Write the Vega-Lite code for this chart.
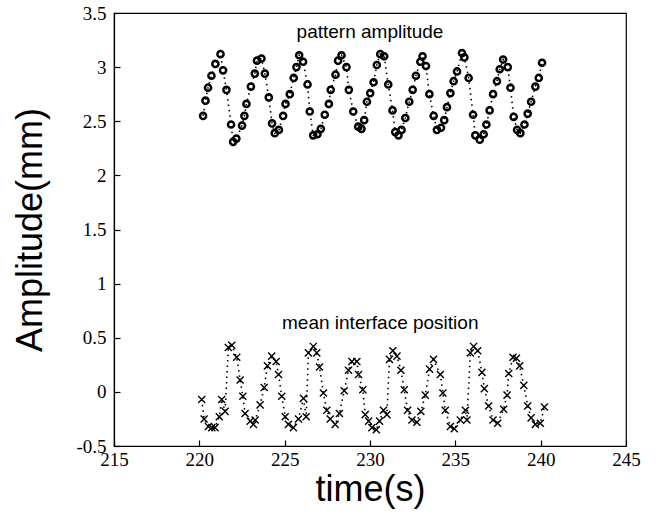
{
  "$schema": "https://vega.github.io/schema/vega-lite/v6.json",
  "width": 512,
  "height": 433,
  "autosize": "none",
  "padding": {"left": 114, "top": 13, "right": 38, "bottom": 78},
  "background": "white",
  "config": {
    "view": {"stroke": "black", "strokeWidth": 1.2},
    "axis": {
      "domainColor": "black", "domainWidth": 1.2,
      "tickColor": "black", "tickWidth": 1.2, "tickSize": -6,
      "grid": false, "labelFlush": false,
      "labelFont": "Liberation Sans Narrow", "labelFontSize": 19, "labelColor": "black",
      "titleFont": "Liberation Sans", "titleFontSize": 36, "titleFontWeight": "normal", "titleColor": "black"
    }
  },
  "datasets": {
    "series": [
    {"s":"p","t":220.22,"v":2.55},{"s":"p","t":220.36,"v":2.69},{"s":"p","t":220.51,"v":2.81},{"s":"p","t":220.71,"v":2.92},{"s":"p","t":220.94,"v":3.03},{"s":"p","t":221.24,"v":3.12},{"s":"p","t":221.39,"v":2.97},{"s":"p","t":221.59,"v":2.79},{"s":"p","t":221.86,"v":2.47},{"s":"p","t":221.98,"v":2.31},{"s":"p","t":222.17,"v":2.34},{"s":"p","t":222.50,"v":2.46},{"s":"p","t":222.64,"v":2.55},{"s":"p","t":222.76,"v":2.66},{"s":"p","t":223.02,"v":2.82},{"s":"p","t":223.25,"v":2.94},{"s":"p","t":223.38,"v":3.06},{"s":"p","t":223.64,"v":3.08},{"s":"p","t":223.84,"v":2.94},{"s":"p","t":224.07,"v":2.72},{"s":"p","t":224.26,"v":2.48},{"s":"p","t":224.42,"v":2.39},{"s":"p","t":224.66,"v":2.42},{"s":"p","t":224.91,"v":2.55},{"s":"p","t":225.05,"v":2.66},{"s":"p","t":225.30,"v":2.75},{"s":"p","t":225.53,"v":2.90},{"s":"p","t":225.69,"v":3.00},{"s":"p","t":225.85,"v":3.11},{"s":"p","t":226.08,"v":3.05},{"s":"p","t":226.34,"v":2.84},{"s":"p","t":226.47,"v":2.59},{"s":"p","t":226.67,"v":2.37},{"s":"p","t":226.92,"v":2.38},{"s":"p","t":227.12,"v":2.43},{"s":"p","t":227.35,"v":2.56},{"s":"p","t":227.59,"v":2.66},{"s":"p","t":227.70,"v":2.79},{"s":"p","t":227.98,"v":2.93},{"s":"p","t":228.13,"v":3.06},{"s":"p","t":228.33,"v":3.11},{"s":"p","t":228.62,"v":3.00},{"s":"p","t":228.76,"v":2.79},{"s":"p","t":229.02,"v":2.59},{"s":"p","t":229.31,"v":2.45},{"s":"p","t":229.50,"v":2.43},{"s":"p","t":229.66,"v":2.51},{"s":"p","t":229.82,"v":2.68},{"s":"p","t":230.01,"v":2.76},{"s":"p","t":230.21,"v":2.86},{"s":"p","t":230.40,"v":3.02},{"s":"p","t":230.60,"v":3.12},{"s":"p","t":230.83,"v":3.10},{"s":"p","t":231.07,"v":2.84},{"s":"p","t":231.32,"v":2.60},{"s":"p","t":231.48,"v":2.40},{"s":"p","t":231.67,"v":2.37},{"s":"p","t":231.85,"v":2.42},{"s":"p","t":232.07,"v":2.53},{"s":"p","t":232.30,"v":2.68},{"s":"p","t":232.50,"v":2.79},{"s":"p","t":232.69,"v":2.92},{"s":"p","t":232.95,"v":3.05},{"s":"p","t":233.08,"v":3.10},{"s":"p","t":233.28,"v":3.01},{"s":"p","t":233.48,"v":2.75},{"s":"p","t":233.73,"v":2.55},{"s":"p","t":233.92,"v":2.42},{"s":"p","t":234.16,"v":2.44},{"s":"p","t":234.35,"v":2.51},{"s":"p","t":234.51,"v":2.63},{"s":"p","t":234.71,"v":2.76},{"s":"p","t":234.90,"v":2.87},{"s":"p","t":235.10,"v":2.96},{"s":"p","t":235.39,"v":3.13},{"s":"p","t":235.53,"v":3.09},{"s":"p","t":235.78,"v":2.90},{"s":"p","t":236.04,"v":2.56},{"s":"p","t":236.17,"v":2.37},{"s":"p","t":236.43,"v":2.33},{"s":"p","t":236.66,"v":2.38},{"s":"p","t":236.82,"v":2.47},{"s":"p","t":237.01,"v":2.60},{"s":"p","t":237.21,"v":2.75},{"s":"p","t":237.44,"v":2.87},{"s":"p","t":237.60,"v":2.98},{"s":"p","t":237.80,"v":3.07},{"s":"p","t":238.07,"v":3.00},{"s":"p","t":238.23,"v":2.81},{"s":"p","t":238.42,"v":2.54},{"s":"p","t":238.62,"v":2.42},{"s":"p","t":238.81,"v":2.39},{"s":"p","t":239.05,"v":2.47},{"s":"p","t":239.24,"v":2.57},{"s":"p","t":239.44,"v":2.68},{"s":"p","t":239.69,"v":2.82},{"s":"p","t":239.89,"v":2.90},{"s":"p","t":240.08,"v":3.04},
    {"s":"m","t":220.14,"v":-0.07},{"s":"m","t":220.28,"v":-0.25},{"s":"m","t":220.53,"v":-0.32},{"s":"m","t":220.73,"v":-0.33},{"s":"m","t":220.92,"v":-0.33},{"s":"m","t":221.17,"v":-0.23},{"s":"m","t":221.31,"v":-0.07},{"s":"m","t":221.51,"v":-0.18},{"s":"m","t":221.70,"v":0.41},{"s":"m","t":221.90,"v":0.43},{"s":"m","t":222.19,"v":0.32},{"s":"m","t":222.39,"v":0.11},{"s":"m","t":222.55,"v":-0.04},{"s":"m","t":222.68,"v":-0.20},{"s":"m","t":222.98,"v":-0.27},{"s":"m","t":223.17,"v":-0.30},{"s":"m","t":223.27,"v":-0.26},{"s":"m","t":223.56,"v":-0.12},{"s":"m","t":223.80,"v":0.04},{"s":"m","t":223.99,"v":0.24},{"s":"m","t":224.24,"v":0.33},{"s":"m","t":224.50,"v":0.28},{"s":"m","t":224.64,"v":0.16},{"s":"m","t":224.83,"v":-0.04},{"s":"m","t":225.03,"v":-0.23},{"s":"m","t":225.22,"v":-0.30},{"s":"m","t":225.51,"v":-0.33},{"s":"m","t":225.81,"v":-0.25},{"s":"m","t":226.10,"v":-0.06},{"s":"m","t":226.26,"v":-0.23},{"s":"m","t":226.39,"v":0.36},{"s":"m","t":226.68,"v":0.42},{"s":"m","t":226.88,"v":0.36},{"s":"m","t":227.04,"v":0.23},{"s":"m","t":227.27,"v":-0.01},{"s":"m","t":227.47,"v":-0.17},{"s":"m","t":227.67,"v":-0.25},{"s":"m","t":227.96,"v":-0.30},{"s":"m","t":228.21,"v":-0.20},{"s":"m","t":228.49,"v":0.01},{"s":"m","t":228.74,"v":0.20},{"s":"m","t":228.94,"v":0.28},{"s":"m","t":229.23,"v":0.28},{"s":"m","t":229.33,"v":0.16},{"s":"m","t":229.58,"v":0.02},{"s":"m","t":229.72,"v":-0.21},{"s":"m","t":229.92,"v":-0.27},{"s":"m","t":230.11,"v":-0.33},{"s":"m","t":230.37,"v":-0.35},{"s":"m","t":230.56,"v":-0.27},{"s":"m","t":230.79,"v":-0.17},{"s":"m","t":230.99,"v":-0.21},{"s":"m","t":231.14,"v":0.30},{"s":"m","t":231.34,"v":0.38},{"s":"m","t":231.58,"v":0.33},{"s":"m","t":231.81,"v":0.20},{"s":"m","t":232.01,"v":0.02},{"s":"m","t":232.20,"v":-0.17},{"s":"m","t":232.46,"v":-0.26},{"s":"m","t":232.75,"v":-0.28},{"s":"m","t":232.98,"v":-0.18},{"s":"m","t":233.24,"v":-0.03},{"s":"m","t":233.49,"v":0.21},{"s":"m","t":233.72,"v":0.30},{"s":"m","t":234.12,"v":0.16},{"s":"m","t":234.27,"v":-0.01},{"s":"m","t":234.41,"v":-0.17},{"s":"m","t":234.71,"v":-0.32},{"s":"m","t":234.94,"v":-0.34},{"s":"m","t":235.29,"v":-0.26},{"s":"m","t":235.59,"v":-0.17},{"s":"m","t":235.68,"v":-0.26},{"s":"m","t":235.88,"v":0.36},{"s":"m","t":236.07,"v":0.42},{"s":"m","t":236.31,"v":0.38},{"s":"m","t":236.56,"v":0.18},{"s":"m","t":236.70,"v":0.03},{"s":"m","t":236.95,"v":-0.13},{"s":"m","t":237.21,"v":-0.26},{"s":"m","t":237.48,"v":-0.29},{"s":"m","t":237.83,"v":-0.16},{"s":"m","t":238.03,"v":-0.03},{"s":"m","t":238.13,"v":0.17},{"s":"m","t":238.38,"v":0.32},{"s":"m","t":238.58,"v":0.31},{"s":"m","t":238.77,"v":0.24},{"s":"m","t":239.01,"v":0.06},{"s":"m","t":239.24,"v":-0.13},{"s":"m","t":239.44,"v":-0.24},{"s":"m","t":239.69,"v":-0.30},{"s":"m","t":239.98,"v":-0.29},{"s":"m","t":240.22,"v":-0.14}
    ],
    "labels": [
      {"label": "pattern amplitude", "lt": 230.0, "lv": 3.32},
      {"label": "mean interface position", "lt": 230.6, "lv": 0.64}
    ]
  },
  "layer": [
    {"data": {"name": "series"},
     "mark": {"type": "line", "color": "black", "strokeWidth": 1.6, "strokeDash": [1.5, 4]},
     "encoding": {
       "x": {"field": "t", "type": "quantitative",
         "scale": {"domain": [215, 245], "nice": false, "zero": false},
         "axis": {"title": "time(s)", "values": [215,220,225,230,235,240,245], "labelPadding": 10, "titlePadding": 3, "labelExpr": "'' + datum.value"}},
       "y": {"field": "v", "type": "quantitative",
         "scale": {"domain": [-0.5, 3.5], "nice": false, "zero": false},
         "axis": {"title": "Amplitude(mm)", "values": [-0.5,0,0.5,1,1.5,2,2.5,3,3.5], "labelPadding": 14, "titlePadding": 26, "labelExpr": "'' + datum.value"}},
       "detail": {"field": "s"}}},
    {"data": {"name": "series"},
     "transform": [{"filter": "datum.s == 'p'"}],
     "mark": {"type": "point", "shape": "circle", "filled": false, "stroke": "black", "strokeWidth": 2.5, "size": 38, "opacity": 1},
     "encoding": {"x": {"field": "t", "type": "quantitative"}, "y": {"field": "v", "type": "quantitative"}}},
    {"data": {"name": "series"},
     "transform": [{"filter": "datum.s == 'm'"}],
     "mark": {"type": "point", "shape": "M-1,-1L1,1M-1,1L1,-1", "filled": false, "stroke": "black", "strokeWidth": 1.4, "size": 50, "opacity": 1},
     "encoding": {"x": {"field": "t", "type": "quantitative"}, "y": {"field": "v", "type": "quantitative"}}},
    {"data": {"name": "labels"},
     "mark": {"type": "text", "font": "Liberation Sans", "fontSize": 19, "color": "black", "align": "center", "baseline": "middle"},
     "encoding": {"x": {"field": "lt", "type": "quantitative"}, "y": {"field": "lv", "type": "quantitative"}, "text": {"field": "label"}}}
  ]
}
